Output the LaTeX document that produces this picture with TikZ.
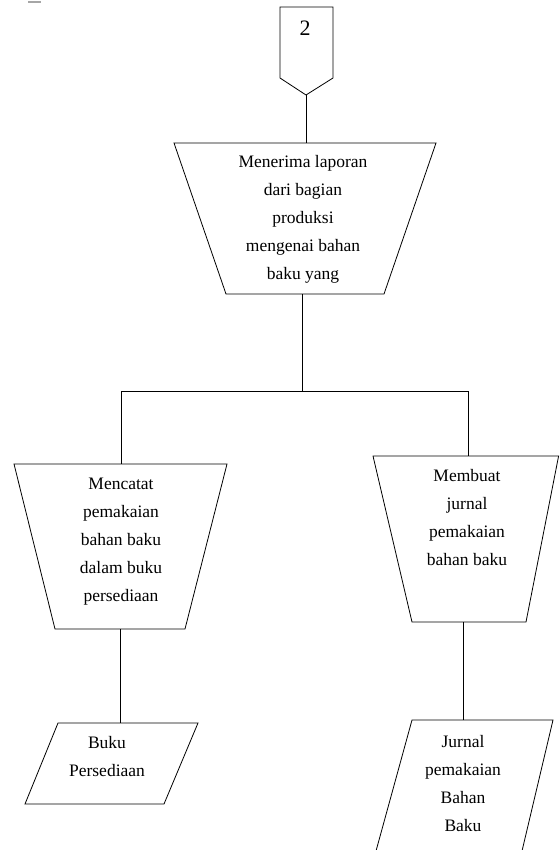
\documentclass[tikz,border=0pt]{standalone}
\usepackage{fontspec}
\setmainfont{Liberation Serif}
\begin{document}
\begin{tikzpicture}[x=1pt,y=-1pt,
  shapeline/.style={draw=black,line width=0.8pt,line join=miter},
  link/.style={draw=black,line width=0.8pt},
  label/.style={inner sep=0pt,align=center,anchor=north,font=\fontsize{17.5}{28}\selectfont}]
\useasboundingbox (0,0) rectangle (559,850);

% small mark at the top edge
\draw[gray!70,line width=1.2pt] (28,2) -- (41,2);

% off-page connector "2"
\draw[shapeline] (280,7) -- (333,7) -- (333,78) -- (306,95) -- (280,78) -- cycle;
\coordinate (conn) at (306,95);
\node[inner sep=0pt,font=\fontsize{22}{22}\selectfont] (connlabel) at (305,28) {2};

% manual operation: receiving the report
\draw[shapeline] (174,143) -- (436,143) -- (384,294) -- (226,294) -- cycle;
\coordinate (recvtop) at (306,143);
\coordinate (recvbot) at (302,294);
\node[label] (recvlabel) at (303,155) {Menerima laporan\\dari bagian\\produksi\\mengenai bahan\\baku yang};

% branching bus
\coordinate (split) at (302,391);
\coordinate (busleft) at (121,391);
\coordinate (busright) at (468,391);

% left manual operation
\draw[shapeline] (14,464) -- (227,464) -- (185,629) -- (55,629) -- cycle;
\coordinate (recordtop) at (121,464);
\coordinate (recordbot) at (120,629);
\node[label] (recordlabel) at (121,478) {Mencatat\\pemakaian\\bahan baku\\dalam buku\\persediaan};

% right manual operation
\draw[shapeline] (373,456) -- (558.6,456) -- (526,622) -- (412,622) -- cycle;
\coordinate (journaltop) at (468,456);
\coordinate (journalbot) at (463,622);
\node[label] (journallabel) at (467,469) {Membuat\\jurnal\\pemakaian\\bahan baku};

% left data store
\draw[shapeline] (58,723) -- (198,723) -- (164,804) -- (25,804) -- cycle;
\coordinate (booktop) at (120,723);
\node[label] (booklabel) at (107,736) {Buku\\Persediaan};

% right data store (runs off the bottom edge)
\draw[shapeline] (412,720) -- (553,720) -- (522,851) -- (376,851) -- cycle;
\coordinate (jdatatop) at (463,720);
\node[label] (jdatalabel) at (463,735) {Jurnal\\pemakaian\\Bahan\\Baku};

% connectors
\draw[link] (conn) -- (recvtop);
\draw[link] (recvbot) -- (split);
\draw[link] (busleft) -- (busright);
\draw[link] (busleft) -- (recordtop);
\draw[link] (busright) -- (journaltop);
\draw[link] (recordbot) -- (booktop);
\draw[link] (journalbot) -- (jdatatop);
\end{tikzpicture}
\end{document}
